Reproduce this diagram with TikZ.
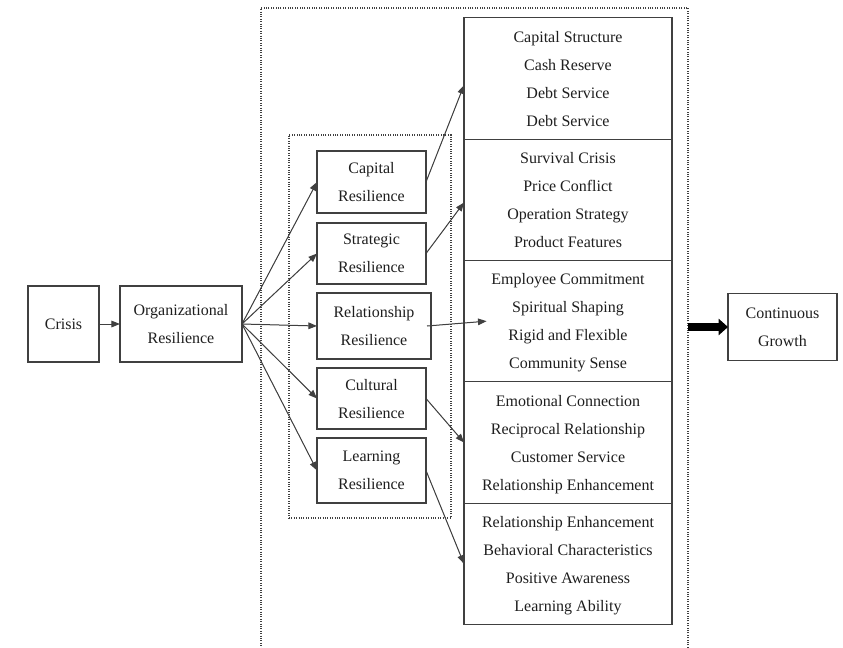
\documentclass[tikz,border=0pt]{standalone}
\usepackage{fontspec}
\setmainfont{Liberation Serif}
\usetikzlibrary{arrows.meta,positioning}
\definecolor{frameline}{HTML}{404040}
\definecolor{textdark}{HTML}{1E1E1E}

\begin{document}
\begin{tikzpicture}[x=0.75pt,y=-0.75pt, every node/.style={font=\fontsize{12}{21pt}\selectfont,text=textdark}]
    \tikzstyle{box}=[draw=frameline,line width=0.9pt,align=center,inner sep=0pt,outer sep=0pt,text depth=0pt]
    \tikzstyle{resbox}=[box,minimum width=81.75pt]
    \tikzstyle{items}=[box,minimum width=156pt,minimum height=91pt]
    \tikzstyle{frame}=[draw=frameline,densely dotted,line width=0.8pt,inner sep=0pt,outer sep=0pt]
    \tikzstyle{link}=[-{Triangle[length=6.5pt,width=5pt]},line width=0.75pt,draw=frameline,fill=black]
    \useasboundingbox (0,0) rectangle (843,647);
    % dotted frames
    \node[frame,minimum width=320.25pt,minimum height=489pt] (outer) at (474.5,334) {};
    \node[frame,minimum width=121.5pt,minimum height=287.25pt] (inner) at (370,326.5) {};
    % left side
    \node[box,minimum width=53.25pt,minimum height=57pt] (crisis) at (63.5,324) {Crisis};
    \node[box,minimum width=91.5pt,minimum height=57pt] (orgres) at (181,324) {Organizational\\Resilience};
    % five resilience dimensions
    \node[resbox,minimum height=46.5pt] (capres) at (371.5,182) {Capital\\Resilience};
    \node[resbox,minimum height=45.75pt] (strres) at (371.5,253.5) {Strategic\\Resilience};
    \node[resbox,minimum width=85.5pt,minimum height=49.5pt] (relres) at (374,326) {Relationship\\Resilience};
    \node[resbox,minimum height=45.75pt] (culres) at (371.5,398.5) {Cultural\\Resilience};
    \node[resbox,minimum height=48.75pt] (lrnres) at (371.5,470.5) {Learning\\Resilience};
    % indicator column
    \node[items] (capitems) at (568,78.5) {Capital Structure\\Cash Reserve\\Debt Service\\Debt Service};
    \node[items,below=0pt of capitems] (stritems) {Survival Crisis\\Price Conflict\\Operation Strategy\\Product Features};
    \node[items,below=0pt of stritems] (relitems) {Employee Commitment\\Spiritual Shaping\\Rigid and Flexible\\Community Sense};
    \node[items,below=0pt of relitems] (culitems) {Emotional Connection\\Reciprocal Relationship\\Customer Service\\Relationship Enhancement};
    \node[items,below=0pt of culitems] (lrnitems) {Relationship Enhancement\\Behavioral Characteristics\\Positive Awareness\\Learning Ability};
    \node[box,minimum width=81.75pt,minimum height=50.25pt] (growth) at (782.5,327) {Continuous\\Growth};
    % connectors
    \draw[link] (crisis) -- (orgres);
    \draw[link] (orgres.east) -- (capres.west);
    \draw[link] (orgres.east) -- (strres.west);
    \draw[link] (orgres.east) -- (relres.west);
    \draw[link] (orgres.east) -- (culres.west);
    \draw[link] (orgres.east) -- (lrnres.west);
    \draw[link] (capres.east) -- ([yshift=-5pt]capitems.west);
    \draw[link] (strres.east) -- ([yshift=-2pt]stritems.west);
    \draw[link] ([xshift=-3pt]relres.east) -- ([xshift=17pt]relitems.west);
    \draw[link] (culres.east) -- (culitems.west);
    \draw[link] (lrnres.east) -- (lrnitems.west);
    \draw[-{Triangle[length=7pt,width=12pt]},line width=6.5pt,black] (outer.east |- growth.west) -- (growth.west);
\end{tikzpicture}
\end{document}
